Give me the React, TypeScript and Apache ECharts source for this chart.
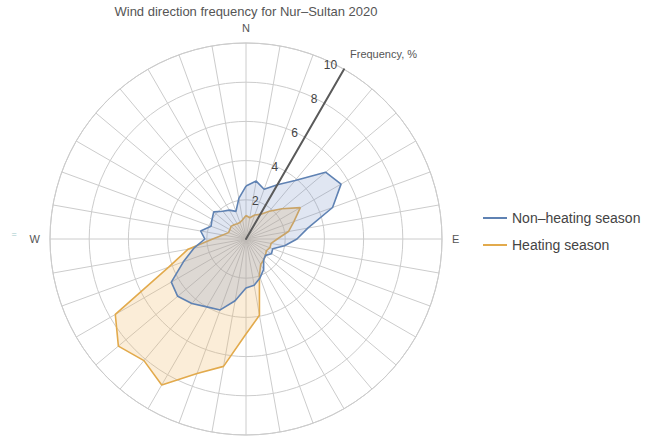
import React, { useEffect, useRef } from "react";
import * as echarts from "echarts";

const directions = [0, 10, 20, 30, 40, 50, 60, 70, 80, 90, 100, 110, 120, 130, 140, 150, 160, 170, 180, 190, 200, 210, 220, 230, 240, 250, 260, 270, 280, 290, 300, 310, 320, 330, 340, 350];
const nonHeating = [2.7, 3.0, 2.7, 3.2, 3.9, 5.3, 5.6, 4.7, 3.2, 2.6, 2.0, 1.45, 1.5, 1.3, 1.4, 1.8, 2.1, 2.4, 2.5, 3.2, 3.85, 4.0, 4.3, 4.55, 4.4, 3.4, 2.7, 2.1, 2.35, 1.9, 2.0, 2.15, 1.85, 1.7, 1.5, 2.1];
const heating = [1.2, 1.1, 1.3, 1.45, 1.85, 2.4, 3.2, 2.6, 2.2, 1.6, 1.3, 1.3, 1.2, 1.3, 1.4, 1.5, 2.0, 3.95, 4.85, 6.6, 7.3, 8.6, 8.1, 8.5, 7.7, 4.2, 3.0, 1.7, 1.2, 0.95, 0.95, 1.0, 0.95, 0.9, 0.9, 1.0];
const compassLabels: Record<number, string> = { 0: "N", 90: "E", 270: "W" };
const seriesNames = ["Non\u2013heating season", "Heating season"];
const title = "Wind direction frequency for Nur\u2013Sultan 2020";
const radiusName = "Frequency, %";

const toPolar = (vals: number[]) => {
  const pts = directions.map((d, i) => [vals[i], d]);
  pts.push([vals[0], 360]);
  return pts;
};

export default function App() {
  const ref = useRef<HTMLDivElement>(null);
  useEffect(() => {
    if (!ref.current) return;
    const chart = echarts.init(ref.current, null, { renderer: "svg" });
    const font = "Liberation Sans, Arial, sans-serif";
    const center = [246, 239];
    const R = 196;
    chart.setOption({
      animation: false,
      textStyle: { fontFamily: font },
      polar: [
        { center, radius: R },
        { center, radius: R },
      ],
      angleAxis: [
        {
          polarIndex: 0,
          type: "value",
          min: 0,
          max: 360,
          interval: 10,
          startAngle: 90,
          clockwise: true,
          axisLine: { show: true, lineStyle: { color: "#cccccc", width: 1 } },
          axisTick: { show: false },
          splitLine: { show: true, lineStyle: { color: "#cccccc", width: 1 } },
          axisLabel: {
            show: true,
            margin: 10,
            color: "#555",
            fontSize: 11,
            fontFamily: font,
            formatter: (v: number) => compassLabels[v] ?? "",
          },
        },
        {
          polarIndex: 1,
          type: "value",
          min: 0,
          max: 360,
          startAngle: 60,
          clockwise: true,
          show: false,
        },
      ],
      radiusAxis: [
        {
          polarIndex: 0,
          type: "value",
          min: 0,
          max: 10,
          interval: 2,
          axisLine: { show: false },
          axisTick: { show: false },
          axisLabel: { show: false },
          splitLine: { show: true, lineStyle: { color: "#cccccc", width: 1 } },
        },
        {
          polarIndex: 1,
          type: "value",
          min: 0,
          max: 10,
          interval: 2,
          z: 10,
          axisLine: { show: true, lineStyle: { color: "#5a5a5a", width: 2 } },
          axisTick: { show: false },
          splitLine: { show: false },
          axisLabel: {
            show: true,
            color: "#444",
            fontSize: 12,
            fontFamily: font,
            formatter: (v: number) => (v === 0 ? "" : String(v)),
          },
        },
      ],
      legend: {
        orient: "vertical",
        left: 478,
        top: 206,
        itemWidth: 24,
        itemHeight: 12,
        itemGap: 13,
        icon: "path://M0,5 L24,5 L24,7 L0,7 Z",
        textStyle: { color: "#444", fontSize: 14, fontFamily: font },
        data: seriesNames,
      },
      graphic: [
        {
          type: "text",
          x: 246,
          y: 11,
          style: { text: title, fill: "#555", fontSize: 13, fontFamily: font, align: "center", verticalAlign: "middle" },
        },
        {
          type: "text",
          x: 350,
          y: 54,
          style: { text: radiusName, fill: "#555", fontSize: 11, fontFamily: font, align: "left", verticalAlign: "middle" },
        },
        {
          type: "text",
          x: 14,
          y: 234,
          style: { text: "=", fill: "#9cc9c9", fontSize: 9, fontFamily: font, align: "center", verticalAlign: "middle" },
        },
      ],
      series: [
        {
          name: seriesNames[1],
          type: "line",
          coordinateSystem: "polar",
          polarIndex: 0,
          symbol: "none",
          data: toPolar(heating),
          lineStyle: { color: "#e2aa4c", width: 1.6 },
          itemStyle: { color: "#e2aa4c" },
          areaStyle: { color: "rgba(240,185,100,0.36)" },
          z: 2,
        },
        {
          name: seriesNames[0],
          type: "line",
          coordinateSystem: "polar",
          polarIndex: 0,
          symbol: "none",
          data: toPolar(nonHeating),
          lineStyle: { color: "#5f82b3", width: 1.6 },
          itemStyle: { color: "#5f82b3" },
          areaStyle: { color: "rgba(115,145,195,0.32)" },
          z: 3,
        },
      ],
    });
    return () => chart.dispose();
  }, []);
  return <div ref={ref} style={{ position: "absolute", left: 0, top: 0, width: 664, height: 441 }} />;
}
